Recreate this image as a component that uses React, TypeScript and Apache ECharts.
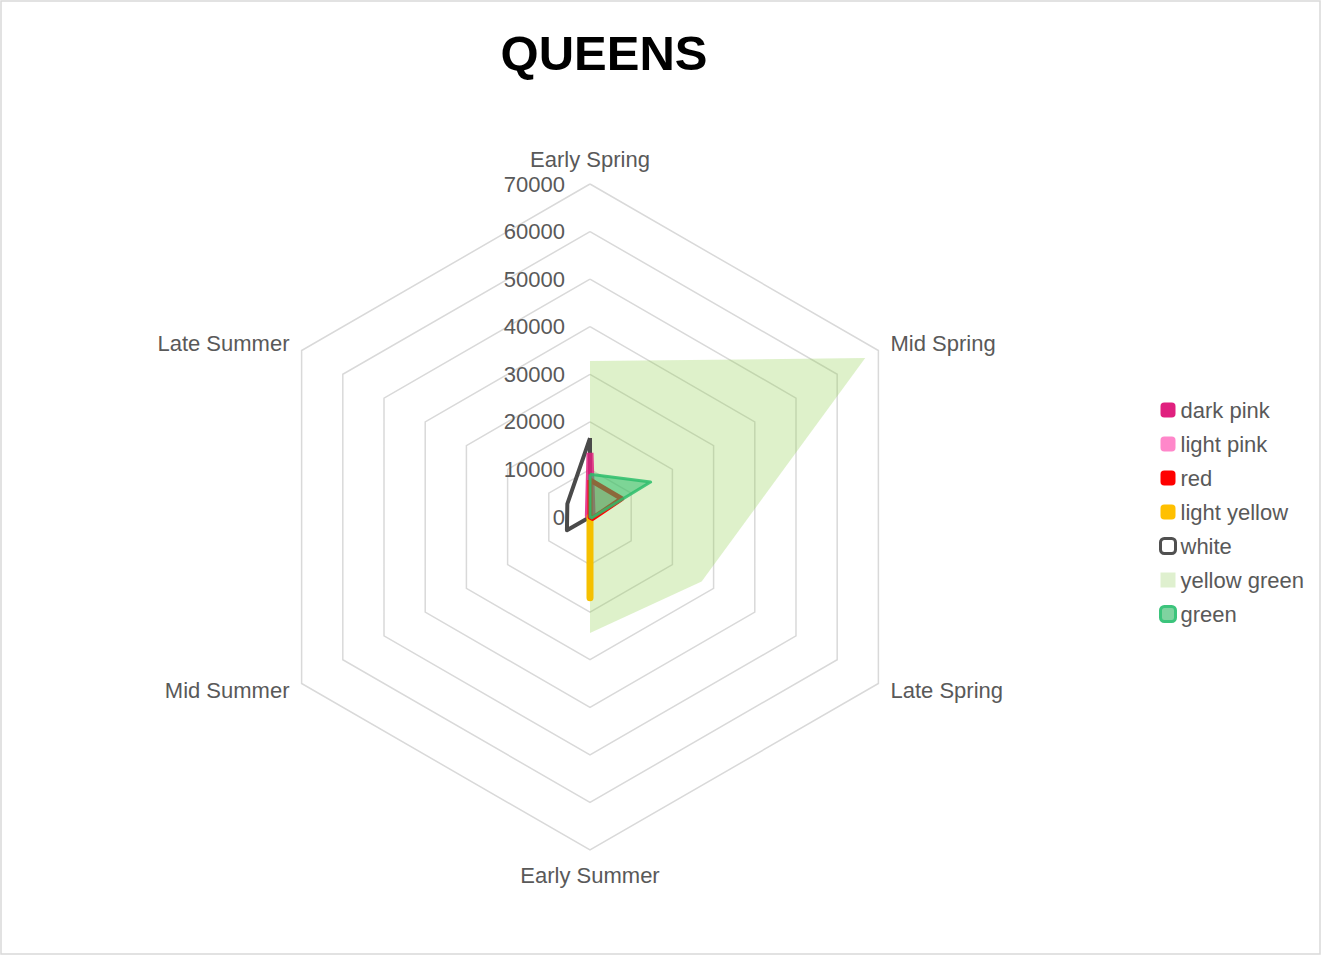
import React, { useEffect, useRef } from "react";
import * as echarts from "echarts";

const axisNames = ["Early Spring", "Mid Spring", "Late Spring", "Early Summer", "Mid Summer", "Late Summer"];
const seriesNames = ["dark pink", "light pink", "red", "light yellow", "white", "yellow green", "green"];
const darkPink = [13500, 500, 0, 0, 0, 400];
const lightPink = [0, 0, 0, 0, 0, 0];
const red = [7800, 7700, 600, 0, 0, 0];
const lightYellow = [0, 0, 0, 17000, 0, 0];
const white = [16600, 0, 0, 0, 5600, 5500];
const yellowGreen = [32800, 66800, 27100, 24400, 0, 0];
const green = [9000, 14700, 400, 0, 0, 0];
const axisMin = 0;
const axisMax = 70000;
const axisStep = 10000;

// ECharts radar runs counter-clockwise; the reference runs clockwise.
const order = [0, 5, 4, 3, 2, 1];
const reorder = (arr: number[]) => order.map((i) => arr[i]);

const FONT = "'Liberation Sans', Arial, sans-serif";
const GREY = "#595959";

export default function App() {
  const ref = useRef<HTMLDivElement>(null);
  useEffect(() => {
    if (!ref.current) return;
    const chart = echarts.init(ref.current, undefined, { renderer: "svg" });

    const mk = (name: string, values: number[], color: string, lineStyle: any, areaStyle: any, z: number) => ({
      type: "radar",
      name,
      symbol: "none",
      z,
      itemStyle: { color },
      lineStyle,
      ...(areaStyle ? { areaStyle } : {}),
      data: [
        {
          name,
          value: reorder(values),
          lineStyle,
          ...(areaStyle ? { areaStyle } : {}),
        },
      ],
    });

    const series = [
      mk("yellow green", yellowGreen, "#92D050", { width: 0, opacity: 0 }, { color: "#92D050", opacity: 0.3 }, 1),
      mk("light pink", lightPink, "#FF87CA", { color: "#FF87CA", width: 5 }, null, 2),
      mk("white", white, "#505050", { color: "#4a4a4a", width: 4 }, null, 3),
      mk("dark pink", darkPink, "#E0207F", { color: "#E0207F", width: 7, opacity: 0.85 }, null, 4),
      mk("light yellow", lightYellow, "#FFC000", { color: "#F5C000", width: 7, cap: "round" }, null, 5),
      mk("red", red, "#FF0000", { color: "#FF0000", width: 5 }, { color: "#FF0000", opacity: 0.25 }, 6),
      mk("green", green, "#2DBE6C", { color: "#2DBE6C", width: 3, opacity: 0.85 }, { color: "#2DBE6C", opacity: 0.55 }, 7),
    ];

    const legendStyle: Record<string, any> = {
      "dark pink": { color: "#E0207F" },
      "light pink": { color: "#FF87CA" },
      red: { color: "#FF0000" },
      "light yellow": { color: "#FFC000" },
      white: { color: "#ffffff", borderColor: "#505050", borderWidth: 3 },
      "yellow green": { color: "#DFF0CF" },
      green: { color: "#7FD3A0", borderColor: "#3CC47C", borderWidth: 3 },
    };

    chart.setOption({
      animation: false,
      backgroundColor: "#ffffff",
      textStyle: { fontFamily: FONT },
      graphic: [
        {
          type: "rect",
          shape: { x: 1, y: 1, width: 1319, height: 953 },
          style: { fill: "none", stroke: "#d9d9d9", lineWidth: 1.5 },
          silent: true,
        },
        {
          type: "text",
          x: 604,
          y: 53,
          style: {
            text: "QUEENS",
            fontSize: 49,
            fontWeight: "bold",
            fontFamily: FONT,
            fill: "#000000",
            textAlign: "center",
            textVerticalAlign: "middle",
          },
        },
      ],
      legend: {
        orient: "vertical",
        left: 1154,
        top: 394,
        itemWidth: 15,
        itemHeight: 15,
        itemGap: 12,
        textStyle: { fontSize: 22, color: GREY, fontFamily: FONT },
        data: seriesNames.map((n) => ({
          name: n,
          icon: n === "yellow green" ? "rect" : "roundRect",
          itemStyle: legendStyle[n],
        })),
      },
      radar: {
        center: [590, 517],
        radius: 333,
        startAngle: 90,
        splitNumber: (axisMax - axisMin) / axisStep,
        shape: "polygon",
        nameGap: 14,
        axisName: { color: GREY, fontSize: 22, fontFamily: FONT },
        axisLine: { show: false },
        axisTick: { show: false },
        axisLabel: { show: false },
        splitArea: { show: false },
        splitLine: { lineStyle: { color: "#d9d9d9", width: 1.5 } },
        indicator: order.map((i) => ({
          name: axisNames[i],
          min: axisMin,
          max: axisMax,
        })),
      },
      grid: { left: 590, top: 184, width: 1, height: 333 },
      xAxis: { type: "value", show: false },
      yAxis: {
        type: "value",
        min: axisMin,
        max: axisMax,
        interval: axisStep,
        axisLine: { show: false },
        axisTick: { show: false },
        splitLine: { show: false },
        axisLabel: {
          fontSize: 22,
          color: GREY,
          margin: 25,
          fontFamily: FONT,
          formatter: (v: number) => String(v),
        },
      },
      series,
    });
    return () => chart.dispose();
  }, []);
  return (
    <div
      ref={ref}
      style={{ position: "absolute", left: 0, top: 0, width: 1322, height: 956 }}
    />
  );
}
